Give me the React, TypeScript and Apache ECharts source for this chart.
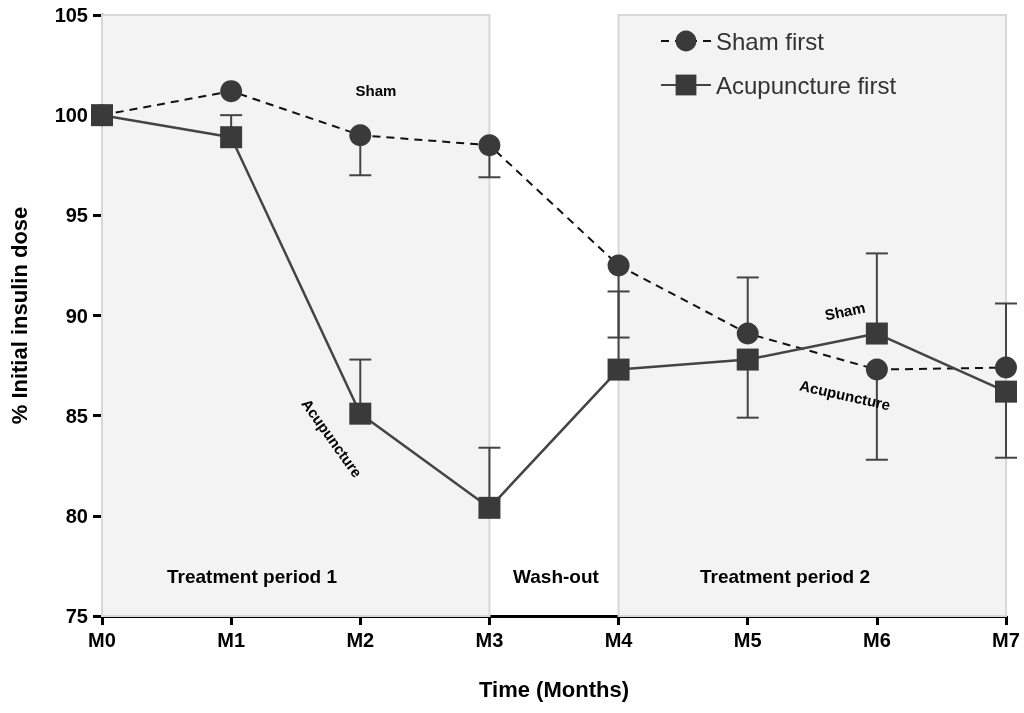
import React, { useEffect, useRef } from "react";
import * as echarts from "echarts";

const months = ["M0", "M1", "M2", "M3", "M4", "M5", "M6", "M7"];
const sham = [100, 101.2, 99, 98.5, 92.5, 89.1, 87.3, 87.4];
const shamErr = [null, null, 97, 96.9, 88.9, 91.9, 82.8, 90.6];
const acu = [100, 98.9, 85.1, 80.4, 87.3, 87.8, 89.1, 86.2];
const acuErr = [null, 100, 87.8, 83.4, 91.2, 84.9, 93.1, 82.9];
const periods = [
  { name: "Treatment period 1", from: 0, to: 3 },
  { name: "Treatment period 2", from: 4, to: 7 },
];

const errData = (vals: number[], errs: (number | null)[]) =>
  vals.map((v, i) => [i, v, errs[i]]).filter((d) => d[2] != null);

const errSeries = (data: any[]) => ({
  type: "custom",
  z: 1,
  silent: true,
  data,
  renderItem: (params: any, api: any) => {
    const x = api.value(0);
    const p1 = api.coord([x, api.value(1)]);
    const p2 = api.coord([x, api.value(2)]);
    const st = { stroke: "#444", lineWidth: 2 };
    return {
      type: "group",
      children: [
        { type: "line", shape: { x1: p1[0], y1: p1[1], x2: p2[0], y2: p2[1] }, style: st },
        { type: "line", shape: { x1: p2[0] - 11, y1: p2[1], x2: p2[0] + 11, y2: p2[1] }, style: st },
      ],
    };
  },
});

const txt = (text: string, x: number, y: number, size: number, rotation = 0) => ({
  type: "text", x, y, rotation, z: 100,
  style: { text, fill: "#000", font: `bold ${size}px Liberation Sans`, textAlign: "center", textVerticalAlign: "middle" },
});

export default function App() {
  const ref = useRef<HTMLDivElement>(null);
  useEffect(() => {
    const chart = echarts.init(ref.current!, null, { renderer: "svg" });
    const bold = { fontFamily: "Liberation Sans, Arial", fontWeight: "bold", color: "#000" };
    chart.setOption({
      animation: false,
      grid: { left: 101, right: 18, top: 15, bottom: 97 },
      xAxis: {
        type: "value", min: 0, max: 7, interval: 1,
        name: "Time (Months)", nameLocation: "middle", nameGap: 62,
        nameTextStyle: { ...bold, fontSize: 22 },
        axisLine: { lineStyle: { color: "#000", width: 3 } },
        axisTick: { lineStyle: { width: 3 }, length: 9 },
        axisLabel: { ...bold, fontSize: 20, margin: 14, formatter: (v: number) => months[v] },
        splitLine: { show: false },
      },
      yAxis: {
        type: "value", min: 75, max: 105, interval: 5,
        name: "% Initial insulin dose", nameLocation: "middle", nameGap: 72,
        nameTextStyle: { ...bold, fontSize: 22 },
        axisLine: { show: true, lineStyle: { color: "#000", width: 3 } },
        axisTick: { show: true, lineStyle: { width: 3 }, length: 9 },
        axisLabel: { ...bold, fontSize: 20, margin: 14 },
        splitLine: { show: false },
      },
      legend: {
        left: 655, top: 24, orient: "vertical", itemGap: 20,
        itemWidth: 50, itemHeight: 26,
        textStyle: { fontFamily: "Liberation Sans, Arial", fontSize: 24, color: "#333" },
        data: ["Sham first", "Acupuncture first"],
      },
      series: [
        {
          name: "Sham first", type: "line",
          data: sham.map((v, i) => [i, v]),
          symbol: "circle", symbolSize: 22,
          lineStyle: { color: "#111", width: 2, type: [8, 6] },
          itemStyle: { color: "#3a3a3a" }, z: 3,
          markArea: {
            silent: true,
            itemStyle: { color: "#f3f3f3", borderColor: "#d8d8d8", borderWidth: 2 },
            data: periods.map((p) => [{ xAxis: p.from }, { xAxis: p.to }]),
          },
        },
        {
          name: "Acupuncture first", type: "line",
          data: acu.map((v, i) => [i, v]),
          symbol: "rect", symbolSize: 22,
          lineStyle: { color: "#444", width: 2.5 },
          itemStyle: { color: "#3a3a3a" }, z: 3,
        },
        errSeries(errData(sham, shamErr)),
        errSeries(errData(acu, acuErr)),
      ],
      graphic: [
        txt("Treatment period 1", 252, 576, 19),
        txt("Wash-out", 556, 576, 19),
        txt("Treatment period 2", 785, 576, 19),
        txt("Sham", 376, 90, 15),
        txt("Acupuncture", 332, 438, 15, -0.95),
        txt("Sham", 845, 311, 15, 0.2),
        txt("Acupuncture", 845, 395, 15, -0.22),
      ],
    });
    return () => chart.dispose();
  }, []);
  return <div ref={ref} style={{ position: "fixed", left: 0, top: 0, width: 1024, height: 713 }} />;
}
